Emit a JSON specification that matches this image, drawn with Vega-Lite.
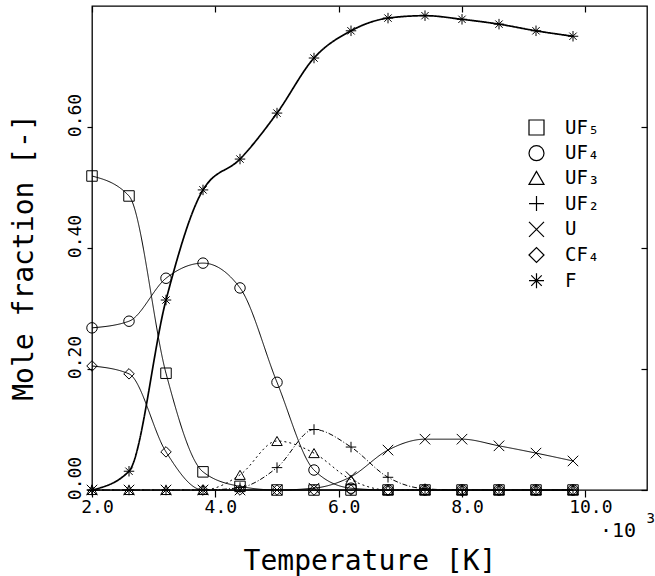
{
  "$schema": "https://vega.github.io/schema/vega-lite/v6.json",
  "width": 555,
  "height": 484,
  "autosize": {"type": "none"},
  "padding": {"left": 92, "top": 6, "right": 8, "bottom": 86},
  "background": "white",
  "config": {
    "view": {"stroke": "black", "strokeWidth": 1.3},
    "axis": {"grid": false, "domain": false, "tickColor": "black", "labelColor": "black", "titleColor": "black",
      "labelFont": "DejaVu Sans Mono", "titleFont": "DejaVu Sans Mono", "titleFontWeight": "normal",
      "labelFlush": false, "labelOverlap": false, "tickWidth": 1.2}
  },
  "data": {"values": [
    {"T": 2.0, "species": "UF₅", "v": 0.519}, {"T": 2.6, "species": "UF₅", "v": 0.486}, {"T": 3.2, "species": "UF₅", "v": 0.193}, {"T": 3.8, "species": "UF₅", "v": 0.030}, {"T": 4.4, "species": "UF₅", "v": 0.006}, {"T": 5.0, "species": "UF₅", "v": 0}, {"T": 5.6, "species": "UF₅", "v": 0}, {"T": 6.2, "species": "UF₅", "v": 0}, {"T": 6.8, "species": "UF₅", "v": 0}, {"T": 7.4, "species": "UF₅", "v": 0}, {"T": 8.0, "species": "UF₅", "v": 0}, {"T": 8.6, "species": "UF₅", "v": 0}, {"T": 9.2, "species": "UF₅", "v": 0}, {"T": 9.8, "species": "UF₅", "v": 0},
    {"T": 2.0, "species": "UF₄", "v": 0.268}, {"T": 2.6, "species": "UF₄", "v": 0.279}, {"T": 3.2, "species": "UF₄", "v": 0.350}, {"T": 3.8, "species": "UF₄", "v": 0.375}, {"T": 4.4, "species": "UF₄", "v": 0.334}, {"T": 5.0, "species": "UF₄", "v": 0.178}, {"T": 5.6, "species": "UF₄", "v": 0.033}, {"T": 6.2, "species": "UF₄", "v": 0.003}, {"T": 6.8, "species": "UF₄", "v": 0}, {"T": 7.4, "species": "UF₄", "v": 0}, {"T": 8.0, "species": "UF₄", "v": 0}, {"T": 8.6, "species": "UF₄", "v": 0}, {"T": 9.2, "species": "UF₄", "v": 0}, {"T": 9.8, "species": "UF₄", "v": 0},
    {"T": 2.0, "species": "UF₃", "v": 0}, {"T": 2.6, "species": "UF₃", "v": 0}, {"T": 3.2, "species": "UF₃", "v": 0}, {"T": 3.8, "species": "UF₃", "v": 0}, {"T": 4.4, "species": "UF₃", "v": 0.025}, {"T": 5.0, "species": "UF₃", "v": 0.081}, {"T": 5.6, "species": "UF₃", "v": 0.061}, {"T": 6.2, "species": "UF₃", "v": 0.017}, {"T": 6.8, "species": "UF₃", "v": 0}, {"T": 7.4, "species": "UF₃", "v": 0}, {"T": 8.0, "species": "UF₃", "v": 0}, {"T": 8.6, "species": "UF₃", "v": 0}, {"T": 9.2, "species": "UF₃", "v": 0}, {"T": 9.8, "species": "UF₃", "v": 0},
    {"T": 2.0, "species": "UF₂", "v": 0}, {"T": 2.6, "species": "UF₂", "v": 0}, {"T": 3.2, "species": "UF₂", "v": 0}, {"T": 3.8, "species": "UF₂", "v": 0}, {"T": 4.4, "species": "UF₂", "v": 0.004}, {"T": 5.0, "species": "UF₂", "v": 0.037}, {"T": 5.6, "species": "UF₂", "v": 0.100}, {"T": 6.2, "species": "UF₂", "v": 0.071}, {"T": 6.8, "species": "UF₂", "v": 0.021}, {"T": 7.4, "species": "UF₂", "v": 0.002}, {"T": 8.0, "species": "UF₂", "v": 0}, {"T": 8.6, "species": "UF₂", "v": 0}, {"T": 9.2, "species": "UF₂", "v": 0}, {"T": 9.8, "species": "UF₂", "v": 0},
    {"T": 2.0, "species": "U", "v": 0}, {"T": 2.6, "species": "U", "v": 0}, {"T": 3.2, "species": "U", "v": 0}, {"T": 3.8, "species": "U", "v": 0}, {"T": 4.4, "species": "U", "v": 0}, {"T": 5.0, "species": "U", "v": 0}, {"T": 5.6, "species": "U", "v": 0.003}, {"T": 6.2, "species": "U", "v": 0.022}, {"T": 6.8, "species": "U", "v": 0.066}, {"T": 7.4, "species": "U", "v": 0.084}, {"T": 8.0, "species": "U", "v": 0.084}, {"T": 8.6, "species": "U", "v": 0.073}, {"T": 9.2, "species": "U", "v": 0.061}, {"T": 9.8, "species": "U", "v": 0.048},
    {"T": 2.0, "species": "CF₄", "v": 0.205}, {"T": 2.6, "species": "CF₄", "v": 0.192}, {"T": 3.2, "species": "CF₄", "v": 0.063}, {"T": 3.8, "species": "CF₄", "v": 0}, {"T": 4.4, "species": "CF₄", "v": 0}, {"T": 5.0, "species": "CF₄", "v": 0}, {"T": 5.6, "species": "CF₄", "v": 0}, {"T": 6.2, "species": "CF₄", "v": 0}, {"T": 6.8, "species": "CF₄", "v": 0}, {"T": 7.4, "species": "CF₄", "v": 0}, {"T": 8.0, "species": "CF₄", "v": 0}, {"T": 8.6, "species": "CF₄", "v": 0}, {"T": 9.2, "species": "CF₄", "v": 0}, {"T": 9.8, "species": "CF₄", "v": 0},
    {"T": 2.0, "species": "F", "v": 0}, {"T": 2.6, "species": "F", "v": 0.031}, {"T": 3.2, "species": "F", "v": 0.314}, {"T": 3.8, "species": "F", "v": 0.496}, {"T": 4.4, "species": "F", "v": 0.547}, {"T": 5.0, "species": "F", "v": 0.623}, {"T": 5.6, "species": "F", "v": 0.714}, {"T": 6.2, "species": "F", "v": 0.759}, {"T": 6.8, "species": "F", "v": 0.780}, {"T": 7.4, "species": "F", "v": 0.784}, {"T": 8.0, "species": "F", "v": 0.778}, {"T": 8.6, "species": "F", "v": 0.770}, {"T": 9.2, "species": "F", "v": 0.759}, {"T": 9.8, "species": "F", "v": 0.750}
  ]},
  "resolve": {"axis": {"x": "independent", "y": "independent"}},
  "layer": [
    {
      "mark": {"type": "line", "interpolate": "monotone", "color": "black"},
      "encoding": {
        "x": {"field": "T", "type": "quantitative", "scale": {"domain": [2, 11], "nice": false, "zero": false},
          "axis": {"orient": "bottom", "values": [2, 4, 6, 8, 10], "format": ".1f", "labelFontSize": 18, "tickSize": 7, "labelPadding": 1, "labelOffset": 5,
            "title": "Temperature [K]", "titleFontSize": 28, "titleY": 79, "titleBaseline": "alphabetic"}},
        "y": {"field": "v", "type": "quantitative", "scale": {"domain": [0, 0.8], "nice": false},
          "axis": {"orient": "left", "values": [0, 0.2, 0.4, 0.6], "format": ".2f", "labelFontSize": 18, "tickSize": 5, "labelPadding": 3,
            "labelAngle": -90, "labelAlign": "center", "labelBaseline": "bottom", "labelOffset": -12,
            "title": "Mole fraction [-]", "titleFontSize": 28, "titleAngle": -90, "titleX": -60, "titleY": 251, "titleAlign": "center", "titleBaseline": "alphabetic"}},
        "detail": {"field": "species"},
        "strokeDash": {"condition": [{"test": "datum.species === 'UF₃'", "value": [2, 3]}, {"test": "datum.species === 'UF₂'", "value": [5, 2, 1, 2]}], "value": [1, 0]},
        "strokeWidth": {"condition": {"test": "datum.species === 'F'", "value": 1.7}, "value": 1}
      }
    },
    {
      "mark": {"type": "point", "filled": false, "color": "black", "strokeWidth": 1, "size": 110, "opacity": 1},
      "encoding": {
        "x": {"field": "T", "type": "quantitative", "scale": {"domain": [2, 11], "nice": false, "zero": false},
          "axis": {"orient": "top", "values": [2, 4, 6, 8, 10], "labels": false, "tickSize": -6, "title": null}},
        "y": {"field": "v", "type": "quantitative", "scale": {"domain": [0, 0.8], "nice": false},
          "axis": {"orient": "right", "values": [0, 0.2, 0.4, 0.6], "labels": false, "tickSize": -6, "title": null}},
        "shape": {"field": "species", "type": "nominal",
          "scale": {"domain": ["UF₅", "UF₄", "UF₃", "UF₂", "U", "CF₄", "F"],
            "range": ["square", "circle", "triangle-up", "M-1,0H1M0,-1V1", "M-1,-1L1,1M-1,1L1,-1", "diamond", "M-1,0H1M0,-1V1M-0.7,-0.7L0.7,0.7M-0.7,0.7L0.7,-0.7"]},
          "legend": {"orient": "none", "legendX": 435, "legendY": 112, "title": null, "padding": 0, "symbolSize": 225, "symbolStrokeWidth": 1.2,
            "symbolStrokeColor": "black", "labelFont": "DejaVu Sans Mono", "labelFontSize": 19, "labelColor": "black", "labelOffset": 19, "rowPadding": 4.7}}
      }
    },
    {
      "data": {"values": [{}]},
      "mark": {"type": "text", "text": "·10", "font": "DejaVu Sans Mono", "fontSize": 20, "align": "center", "baseline": "middle", "color": "black"},
      "encoding": {
        "x": {"datum": 10.53, "type": "quantitative", "scale": {"domain": [2, 11], "nice": false, "zero": false}, "axis": null},
        "y": {"datum": -0.068, "type": "quantitative", "scale": {"domain": [0, 0.8], "nice": false}, "axis": null}
      }
    },
    {
      "data": {"values": [{}]},
      "mark": {"type": "text", "text": "3", "font": "DejaVu Sans Mono", "fontSize": 14, "align": "center", "baseline": "middle", "color": "black"},
      "encoding": {
        "x": {"datum": 11.06, "type": "quantitative", "scale": {"domain": [2, 11], "nice": false, "zero": false}, "axis": null},
        "y": {"datum": -0.048, "type": "quantitative", "scale": {"domain": [0, 0.8], "nice": false}, "axis": null}
      }
    }
  ]
}
